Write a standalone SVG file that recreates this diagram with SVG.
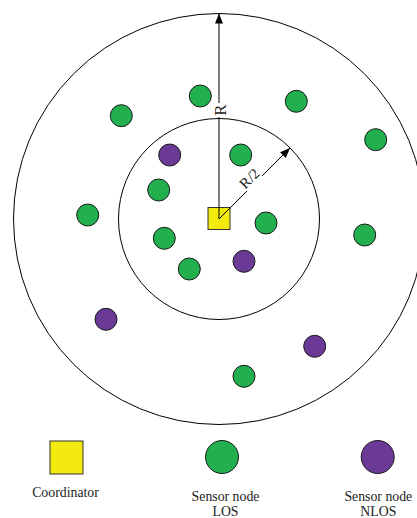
<svg xmlns="http://www.w3.org/2000/svg" width="417" height="518" viewBox="0 0 417 518">
<defs>
<marker id="ah" viewBox="0 0 10 8" refX="10" refY="4" markerWidth="10" markerHeight="8" markerUnits="userSpaceOnUse" orient="auto">
<path d="M0,0 L10,4 L0,8 z" fill="#000"/>
</marker>
<style>
.ring{fill:none;stroke:#000;stroke-width:1}
.los{fill:#22b04f;stroke:#1a1a1a;stroke-width:1}
.nlos{fill:#6b3a97;stroke:#1a1a1a;stroke-width:1}
.coord{fill:#f3ea0f;stroke:#333;stroke-width:1}
.conn{stroke:#000;stroke-width:1;fill:none}
.lbl{font-family:"Liberation Serif","Times New Roman",serif;fill:#222}
</style>
</defs>
<rect width="417" height="518" fill="#fff"/>
<g id="rings">
<circle class="ring" cx="219" cy="219" r="205.5"/>
<circle class="ring" cx="219" cy="219" r="100.5"/>
</g>
<g id="coordinator">
<rect class="coord" x="208" y="207.5" width="22" height="22"/>
</g>
<g id="connectors">
<line class="conn" x1="219" y1="219" x2="219" y2="117"/>
<line class="conn" x1="219" y1="103" x2="219" y2="13.5" marker-end="url(#ah)"/>
<line class="conn" x1="219" y1="219" x2="247" y2="191"/>
<line class="conn" x1="262" y1="176" x2="290" y2="148" marker-end="url(#ah)"/>
</g>
<g id="labels">
<text class="lbl" x="0" y="0" font-size="17" text-anchor="middle" transform="translate(225.5,110) rotate(-90)">R</text>
<text class="lbl" x="0" y="0" font-size="15" text-anchor="middle" transform="translate(253,182) rotate(-45)">R/2</text>
</g>
<g id="sensors-los">
<circle class="los" cx="121.3" cy="115.7" r="11"/>
<circle class="los" cx="200.3" cy="96" r="11"/>
<circle class="los" cx="296.3" cy="101.3" r="11"/>
<circle class="los" cx="375.7" cy="139.7" r="11"/>
<circle class="los" cx="240.7" cy="155" r="11"/>
<circle class="los" cx="158.7" cy="190" r="11"/>
<circle class="los" cx="87.7" cy="215" r="11"/>
<circle class="los" cx="266" cy="223" r="11"/>
<circle class="los" cx="364.7" cy="235" r="11"/>
<circle class="los" cx="164.3" cy="238.3" r="11"/>
<circle class="los" cx="189.3" cy="269" r="11"/>
<circle class="los" cx="244" cy="376.3" r="11"/>
</g>
<g id="sensors-nlos">
<circle class="nlos" cx="169.7" cy="155" r="11"/>
<circle class="nlos" cx="244" cy="261.3" r="11"/>
<circle class="nlos" cx="106" cy="319.3" r="11"/>
<circle class="nlos" cx="314.7" cy="346.3" r="11"/>
</g>
<g id="legend-coordinator">
<rect class="coord" x="50" y="441" width="33" height="33"/>
<text class="lbl" x="65.5" y="497" font-size="13.8" text-anchor="middle">Coordinator</text>
</g>
<g id="legend-los">
<circle class="los" cx="222" cy="457" r="16.5"/>
<text class="lbl" x="225.5" y="501" font-size="13.8" text-anchor="middle">Sensor node</text>
<text class="lbl" x="225.5" y="515.5" font-size="13.8" text-anchor="middle">LOS</text>
</g>
<g id="legend-nlos">
<circle class="nlos" cx="377.7" cy="457" r="16.5"/>
<text class="lbl" x="378.3" y="501" font-size="13.8" text-anchor="middle">Sensor node</text>
<text class="lbl" x="378.3" y="515.5" font-size="13.8" text-anchor="middle">NLOS</text>
</g>
</svg>
